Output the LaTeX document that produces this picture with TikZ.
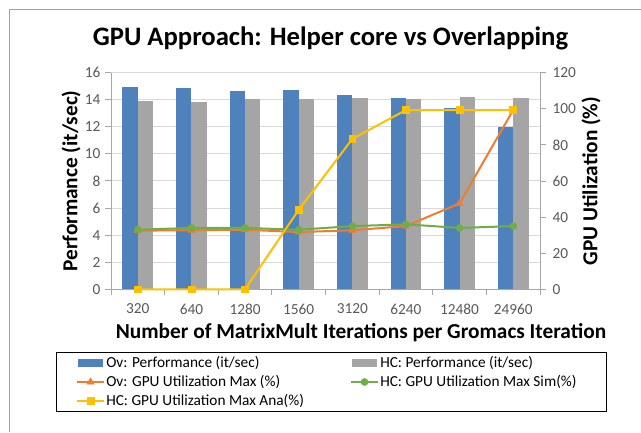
\documentclass[tikz,border=0pt]{standalone}
\usepackage{fontspec}
\setmainfont{Carlito}
\usetikzlibrary{positioning}
\usetikzlibrary{plotmarks}
\definecolor{ovblue}{HTML}{4F81BD}
\definecolor{hcgray}{HTML}{A5A5A5}
\definecolor{ovorange}{HTML}{ED7D31}
\definecolor{hcgreen}{HTML}{70AD47}
\definecolor{hcyellow}{HTML}{FFC000}
\definecolor{gridgray}{HTML}{D9D9D9}
\definecolor{axisgray}{HTML}{A6A6A6}
\definecolor{framegray}{HTML}{A0A0A0}
\definecolor{ticktext}{HTML}{595959}

\begin{document}
\begin{tikzpicture}[x=0.75pt,y=-0.75pt,
    ticklabel/.style={font=\fontsize{11.5}{13}\selectfont,text=ticktext,inner sep=1pt},
    axistitle/.style={font=\fontsize{16}{19}\selectfont\bfseries,inner sep=0pt},
    legendtext/.style={font=\fontsize{11.5}{13}\selectfont,anchor=west,inner sep=0pt},
    ovmax/.style={draw=ovorange,line width=1.5pt,mark=triangle*,mark size=3pt,mark options={fill=ovorange,draw=ovorange,line width=0.5pt}},
    hcsim/.style={draw=hcgreen,line width=1.5pt,mark=*,mark size=2.6pt,mark options={fill=hcgreen,draw=hcgreen,line width=0.5pt}},
    hcana/.style={draw=hcyellow,line width=1.5pt,mark=square*,mark size=2.6pt,mark options={fill=hcyellow,draw=hcyellow,line width=0.5pt}}]
    \useasboundingbox (0,0) rectangle (641,432);
    \fill[white] (0,0) rectangle (641,432);
    % chart frame
    \draw[framegray,line width=0.75pt] (9,432) -- (9,9.5) -- (641,9.5);

    \node[font=\fontsize{20}{24}\selectfont\bfseries] (title) at (330.5,38) {GPU Approach: Helper core vs Overlapping};

    % grid and axes
    \foreach \v in {2,4,...,16}
      \draw[gridgray,line width=0.75pt] (111,{289.3-\v*13.54}) -- (540,{289.3-\v*13.54});
    \foreach \v in {0,2,...,16} {
      \draw[axisgray,line width=0.75pt] (105,{289.3-\v*13.54}) -- (111,{289.3-\v*13.54});
      \node[ticklabel,anchor=east] (yl\v) at (102,{289.3-\v*13.54}) {\v};
    }
    \foreach \p in {0,20,...,120} {
      \draw[axisgray,line width=0.75pt] (540,{289.3-\p*1.805}) -- (546,{289.3-\p*1.805});
      \node[ticklabel,anchor=west] (yr\p) at (551,{289.3-\p*1.805}) {\p};
    }
    \foreach \i in {0,...,8}
      \draw[axisgray,line width=0.75pt] ({111+53.625*\i},289.3) -- ({111+53.625*\i},295);

    % bars (left axis)
    \begin{scope}[shift={(111,289.3)},x=40.22pt,y=10.155pt]
      \foreach \v [count=\i] in {14.92,14.87,14.65,14.7,14.37,14.15,13.37,12.0}
        \fill[ovblue] ({\i-0.5-0.287},0) rectangle ({\i-0.5},\v);
      \foreach \v [count=\i] in {13.93,13.86,14.05,14.05,14.1,14.05,14.2,14.1}
        \fill[hcgray] ({\i-0.5},0) rectangle ({\i-0.5+0.287},\v);
    \end{scope}

    \draw[axisgray,line width=0.75pt] (111,72.7) -- (111,289.3) -- (540,289.3) -- (540,72.7);

    % lines (right axis)
    \begin{scope}[shift={(111,289.3)},x=40.22pt,y=1.354pt]
      \draw[ovmax] plot coordinates {(0.5,32.5) (1.5,32.7) (2.5,33) (3.5,31.7) (4.5,32.7) (5.5,35) (6.5,47.6) (7.5,99.3)};
      \draw[hcsim] plot coordinates {(0.5,33) (1.5,34) (2.5,34) (3.5,33) (4.5,35) (5.5,36) (6.5,34) (7.5,35)};
      \draw[hcana] plot coordinates {(0.5,0) (1.5,0) (2.5,0) (3.5,44) (4.5,83.3) (5.5,99.3) (6.5,99.3) (7.5,99.3)};
    \end{scope}

    % category labels
    \foreach \c [count=\i] in {320,640,1280,1560,3120,6240,12480,24960}
      \node[ticklabel] (xl\i) at ({111+53.625*(\i-0.5)},309) {\c};

    \node[axistitle,rotate=90] (ytitle) at (71,181) {Performance (it/sec)};
    \node[axistitle,rotate=90] (y2title) at (591,181) {GPU Utilization (\%)};
    \node[axistitle] (xtitle) at (361,333) {Number of MatrixMult Iterations per Gromacs Iteration};

    % legend
    \draw[black,line width=0.75pt] (56,352) rectangle (606,411);
    \fill[ovblue] (78,359) rectangle (103,367);
    \node[legendtext] (lgov) at (106,363) {Ov: Performance (it/sec)};
    \fill[hcgray] (352,359) rectangle (377,367);
    \node[legendtext] (lghc) at (380,363) {HC: Performance (it/sec)};
    \draw[ovmax,mark indices={2}] plot coordinates {(77,382) (90.5,382) (104,382)};
    \node[legendtext] (lgovmax) at (106,382) {Ov: GPU Utilization Max (\%)};
    \draw[hcsim,mark indices={2}] plot coordinates {(351,382) (364.5,382) (378,382)};
    \node[legendtext] (lghcsim) at (380,382) {HC: GPU Utilization Max Sim(\%)};
    \draw[hcana,mark indices={2}] plot coordinates {(77,401) (90.5,401) (104,401)};
    \node[legendtext] (lghcana) at (106,401) {HC: GPU Utilization Max Ana(\%)};
\end{tikzpicture}
\end{document}
